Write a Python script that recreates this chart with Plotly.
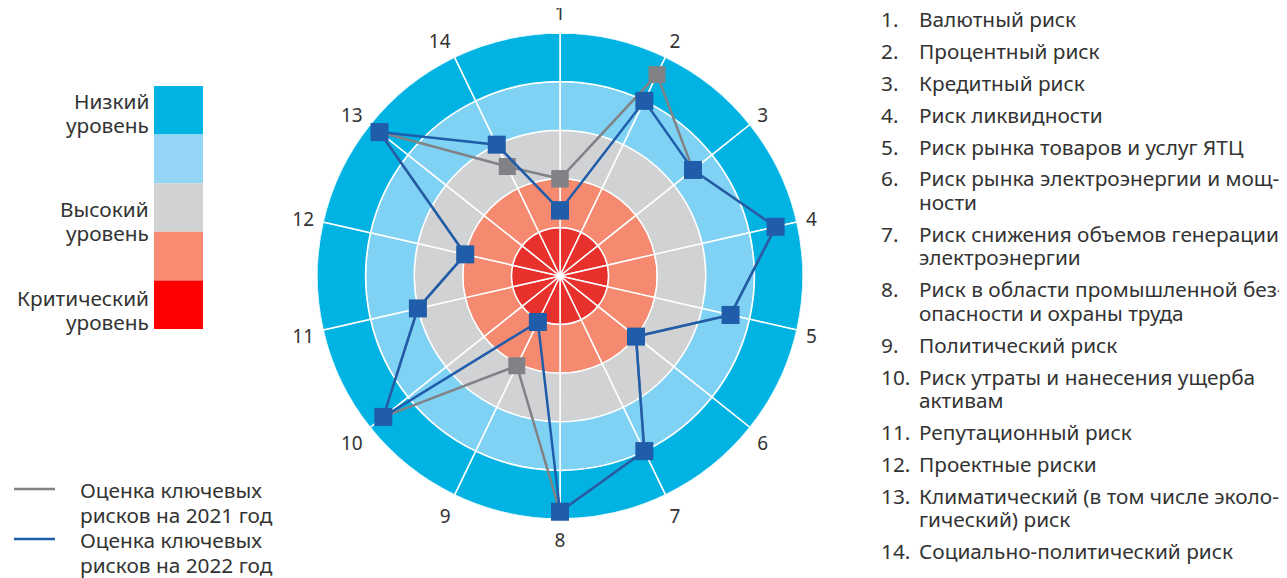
import plotly.graph_objects as go

# ---- data ----
categories = [str(i) for i in range(1, 15)]
risk_2021 = [2.0, 4.6, 3.5, 4.55, 3.6, 2.0, 4.0, 4.85, 2.05, 4.65, 3.0, 2.0, 4.75, 2.5]
risk_2022 = [1.35, 4.0, 3.5, 4.55, 3.6, 2.0, 4.0, 4.85, 1.05, 4.65, 3.0, 2.0, 4.75, 3.0]
ring_colors = ["#E8302C", "#F58A71", "#D1D2D4", "#80D2F5", "#00B3E3"]
legend_block_colors = ["#00B4E4", "#94D5F6", "#D1D2D4", "#FA8A72", "#FF0000"]
level_labels = [["Низкий", "уровень"], ["Высокий", "уровень"], ["Критический", "уровень"]]
series_labels = [["Оценка ключевых", "рисков на 2021 год"], ["Оценка ключевых", "рисков на 2022 год"]]
risk_names = [
    ["Валютный риск"],
    ["Процентный риск"],
    ["Кредитный риск"],
    ["Риск ликвидности"],
    ["Риск рынка товаров и услуг ЯТЦ"],
    ["Риск рынка электроэнергии и мощ-", "ности"],
    ["Риск снижения объемов генерации", "электроэнергии"],
    ["Риск в области промышленной без-", "опасности и охраны труда"],
    ["Политический риск"],
    ["Риск утраты и нанесения ущерба", "активам"],
    ["Репутационный риск"],
    ["Проектные риски"],
    ["Климатический (в том числе эколо-", "гический) риск"],
    ["Социально-политический риск"],
]

# page body has an 8px margin: build the figure in page pixels minus that offset
OFF = 8
W, H = 1287 - OFF, 578 - OFF
FONT = "Noto Sans"
TXT = "#333333"
GRAY = "#808285"
BLUE = "#1F5DAA"
FS = 20.8


def px(x):
    return (x - OFF) / W


def py(y):
    return 1 - (y - OFF) / H


n = len(categories)
step = 360.0 / n
theta_pts = [i * step for i in range(n)]
theta_sect = [i * step + step / 2 for i in range(n)]

fig = go.Figure()

for c in ring_colors:
    fig.add_trace(go.Barpolar(
        r=[1] * n, theta=theta_sect, width=[step] * n,
        marker=dict(color=c, line=dict(color="white", width=1.5)),
        showlegend=False, hoverinfo="skip"))


def closed(a):
    return list(a) + [a[0]]


fig.add_trace(go.Scatterpolar(
    r=closed(risk_2021), theta=closed(theta_pts), mode="lines+markers",
    line=dict(color=GRAY, width=2.5),
    marker=dict(symbol="square", size=17, color=GRAY),
    showlegend=False, name="2021"))
fig.add_trace(go.Scatterpolar(
    r=closed(risk_2022), theta=closed(theta_pts), mode="lines+markers",
    line=dict(color=BLUE, width=2.5),
    marker=dict(symbol="square", size=18, color=BLUE),
    showlegend=False, name="2022"))

cx, cy, R = 560, 276, 243
fig.update_layout(
    width=W, height=H, margin=dict(l=0, r=0, t=0, b=0),
    paper_bgcolor="white", plot_bgcolor="white",
    font=dict(family=FONT, color=TXT, size=19),
    showlegend=False,
    polar=dict(
        domain=dict(x=[px(cx - R), px(cx + R)], y=[py(cy + R), py(cy - R)]),
        bgcolor="white",
        barmode="stack", bargap=0,
        radialaxis=dict(range=[0, 5], visible=False, showgrid=False),
        angularaxis=dict(
            rotation=90, direction="clockwise", thetaunit="degrees",
            tickmode="array", tickvals=theta_pts, ticktext=categories,
            showgrid=False, showline=False,
            ticks="outside", ticklen=5, tickcolor="rgba(0,0,0,0)",
            tickfont=dict(size=19, color=TXT, family=FONT)),
    ),
)

shapes = []
annotations = []


def text(s, x, y, anchor):
    annotations.append(dict(text=s, xref="paper", yref="paper", x=px(x), y=py(y),
                            xanchor=anchor, yanchor="middle", showarrow=False,
                            font=dict(size=FS, color=TXT, family=FONT)))


# colour scale legend
bx0, bx1, by0, bh = 154, 203, 86, 48.6
for i, c in enumerate(legend_block_colors):
    y0 = by0 + i * bh
    shapes.append(dict(type="rect", xref="paper", yref="paper",
                       x0=px(bx0), x1=px(bx1), y0=py(y0 + bh), y1=py(y0),
                       fillcolor=c, line=dict(width=0), layer="above"))
label_y = [101, 209, 298]
for lab, y in zip(level_labels, label_y):
    for j, line in enumerate(lab):
        text(line, 151, y + j * 24, "right")

# series legend
ser_colors = [GRAY, BLUE]
ser_y = [489, 539]
for lab, c, y in zip(series_labels, ser_colors, ser_y):
    shapes.append(dict(type="line", xref="paper", yref="paper",
                       x0=px(14), x1=px(55), y0=py(y), y1=py(y),
                       line=dict(color=c, width=2.5)))
    for j, line in enumerate(lab):
        text(line, 78, y + 1 + j * 25, "left")

# risk list
y = 19
for i, lines in enumerate(risk_names):
    text(f"{i + 1}.", 879, y, "left")
    for j, line in enumerate(lines):
        text(line, 917, y + j * 23.5, "left")
    y += 8.4 + 23.5 * len(lines)

fig.update_layout(shapes=shapes, annotations=annotations)
fig.write_html("out.html")
